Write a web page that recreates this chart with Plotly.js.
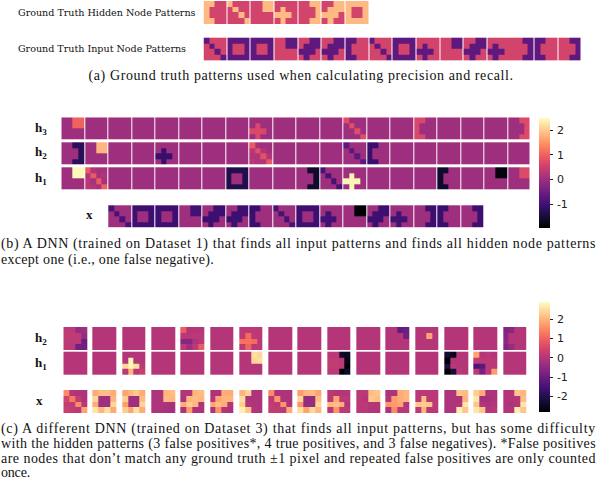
<!DOCTYPE html>
<html>
<head>
<meta charset="utf-8">
<script src="https://cdn.plot.ly/plotly-3.0.1.min.js"></script>
<style>
html,body{margin:0;padding:0;background:#fff}
.heatmaplayer image{filter:blur(0.4px)}
</style>
</head>
<body>
<div id="myDiv" style="width:600px;height:487px"></div>
<script>
// Patrones de referencia (4x4)
const BLANK = [[0,0,0,0],[0,0,0,0],[0,0,0,0],[0,0,0,0]];
const BR_L = [[1,1,0,0],[1,0,0,0],[1,0,0,0],[1,1,0,0]];
const BR_R = [[0,0,1,1],[0,0,0,1],[0,0,0,1],[0,0,1,1]];
const DIAG = [[1,0,0,0],[0,1,0,0],[0,0,1,0],[0,0,0,1]];
const RING = [[1,1,1,1],[1,0,0,1],[1,0,0,1],[1,1,1,1]];
const CORNER = [[0,0,1,1],[0,0,1,1],[0,0,0,0],[0,0,0,0]];
const PLUS = [[0,0,0,0],[0,1,0,0],[1,1,1,0],[0,1,0,0]];
const PLUS_C = [[0,0,1,1],[0,1,1,1],[1,1,1,0],[0,1,0,0]];

// (a) ground truth
const hiddenPatterns = [BR_L, DIAG, CORNER, PLUS, BR_R, PLUS_C, RING];
const hiddenLevel = 1;
const inputPatterns = [DIAG, RING, RING, CORNER, PLUS_C, PLUS_C, BR_L, DIAG, RING, PLUS, CORNER, PLUS_C, PLUS, BR_R, BR_L, BR_R];
const inputLevel = -1;

// (b) patron por columna y nivel por columna
const bH3 = [CORNER,BLANK,BLANK,BLANK,BLANK,BLANK,BLANK,BLANK,PLUS,BLANK,BLANK,BLANK,DIAG,BLANK,BLANK,BR_L,BLANK,BLANK,BLANK,BR_R];
const bH3Level = [1.0,0,0,0,0,0,0,0,0.65,0,0,0,0.75,0,0,0.65,0,0,0,0.7];
const bH2NoisyDiag = [[0.9,0.1,0,0],[0.3,0.8,0.2,0.05],[0.2,0.2,0.8,0.2],[0.3,0.2,0.2,0.9]];
const bH2 = [BR_R,CORNER,BLANK,BLANK,PLUS,BLANK,BLANK,BLANK,bH2NoisyDiag,BLANK,BLANK,BLANK,DIAG,BR_L,BLANK,BLANK,BLANK,BLANK,BLANK,BLANK];
const bH2Level = [-1.25,1.8,0,0,-1.1,0,0,0,1,0,0,0,-0.7,-1.1,0,0,0,0,0,0];
const bH1NoisyDiag = [[0.9,0.2,0.1,0.1],[0.2,0.9,0.1,0.2],[0.3,0.1,0.9,0.1],[0.3,0.2,0.1,1.0]];
const bH1 = [CORNER,bH1NoisyDiag,BLANK,BLANK,BLANK,BLANK,BLANK,RING,BLANK,BLANK,BR_R,DIAG,PLUS,BLANK,BLANK,BLANK,BR_L,BLANK,CORNER,CORNER];
const bH1Level = [2.45,1,0,0,0,0,0,-1.35,0,0,-1.6,-0.95,2.4,0,0,0,-1.6,0,-1.85,0.7];
const bX = inputPatterns;
const bXLevel = [-0.95,-1.05,-1.05,-1.0,-1.05,-1.05,-1.1,-0.95,-1.05,-1.0,-1.95,-1.05,-1.0,-1.05,-1.1,-1.05];

// (c) valores
const cH2 = [
  [[0.1,0.1,-0.4,-0.3],[0.15,0.2,0.15,-0.4],[0.1,0.1,0.1,-1.0],[0.1,0.1,-0.9,-0.9]],
  BLANK, BLANK, BLANK,
  [[0.9,0,0,0],[0.1,0.05,0.1,0.1],[-0.6,-0.6,-0.1,0.1],[0.1,-0.3,0.1,0.9]],
  BLANK,
  [[0.1,0.1,0.1,0.1],[0.1,1.1,0.1,0.1],[1.2,1.2,1.1,0.1],[0.1,1.0,0.1,0.1]],
  BLANK, BLANK, BLANK, BLANK,
  [[0,0,-1.1,-1.0],[0,0,0,-0.9],[0,0,0,0],[0,0,0,0]],
  [[0,0,0,0],[0,0,1.8,0],[0,0,0,0],[0,0,0,0]],
  BLANK, BLANK,
  [[-0.7,-0.6,0,0],[-0.6,0,0,0],[-0.5,0,0,0],[-0.7,-0.4,0,0]]
];
const cH1 = [
  BLANK, BLANK,
  [[0,0,0,0],[0,2.8,0,0],[2.4,2.8,2.5,0.1],[0.1,2.0,0.1,0.3]],
  BLANK, BLANK, BLANK,
  [[0,0,2.5,2.4],[0,0,2.4,2.5],[0,0,0,0],[0,0,0,0]],
  BLANK, BLANK,
  [[0.1,0.1,-2.4,-2.5],[0.2,0.2,0.1,-2.6],[0.2,0.2,0.1,-2.8],[0.1,0.1,-2.8,-2.4]],
  BLANK, BLANK, BLANK,
  [[-2.3,-2.6,0,0],[-2.8,0,0,0],[-2.1,0.1,0,0],[-2.8,-2.2,0.1,0]],
  [[1.8,0,0.1,0],[0.2,0.1,0.1,0.1],[-1.4,-1.2,0.1,0.1],[0.1,-0.8,0.1,1.7]],
  BLANK
];
const cX = [
  [[1.5,0,-0.1,-0.1],[0.4,1.3,0.2,-0.1],[0.2,0.2,1.5,0.1],[0.3,0.2,0.1,1.8]],
  [[1.9,2.1,2.1,1.9],[2.4,-0.3,-0.3,2.0],[1.9,-0.3,-0.3,2.4],[2.6,2.0,2.5,1.9]],
  [[1.8,2.0,2.2,1.9],[2.3,-0.3,-0.3,2.1],[1.7,-0.3,-0.3,2.4],[2.3,1.8,2.5,1.9]],
  [[-0.1,-0.1,2.0,2.1],[-0.1,-0.1,2.1,2.0],[-0.1,-0.1,-0.1,-0.2],[-0.1,-0.1,-0.15,-0.2]],
  [[0,0,2.0,2.1],[-0.1,2.0,2.1,2.0],[1.9,2.3,2.0,-0.1],[-0.1,1.7,-0.1,-0.1]],
  [[-0.1,-0.1,1.9,1.9],[0,1.8,2.0,2.0],[1.8,2.1,1.9,0],[-0.1,1.6,0,-0.1]],
  [[2.0,2.4,-0.1,-0.1],[2.5,-0.1,-0.1,-0.1],[2.3,0,-0.1,-0.1],[2.7,2.2,0,-0.1]],
  [[1.5,-0.1,-0.1,-0.1],[0.1,1.6,-0.1,-0.1],[0.2,0.1,1.6,-0.1],[0.2,0.2,0.1,1.9]],
  [[1.7,2.0,2.1,1.8],[2.4,-0.4,-0.4,2.1],[1.6,-0.4,-0.4,2.4],[2.5,1.8,2.4,2.0]],
  [[0.1,0,0,0],[0.1,1.8,0.1,0.1],[2.0,2.1,1.9,0],[0.1,1.6,0.1,0.1]],
  [[0.1,0.1,2.1,2.2],[0.1,0,2.2,2.1],[0.1,0.1,0,0],[0.1,0.1,0,0]],
  [[-0.1,-0.1,1.9,2.0],[0,1.7,1.9,2.0],[1.6,1.7,1.8,0],[-0.1,1.5,0.1,0.1]],
  [[0.1,0.1,0.1,0.1],[0.1,2.1,0.1,0.1],[2.2,2.3,2.2,0.1],[0.1,2.0,0.1,0.1]],
  [[-0.1,-0.1,2.2,2.1],[-0.1,-0.1,-0.1,2.0],[-0.1,-0.1,0,2.6],[-0.1,-0.1,2.7,2.2]],
  [[2.3,1.9,-0.1,-0.1],[2.6,-0.2,-0.2,-0.1],[2.2,0,-0.1,0],[2.6,2.2,0,0.1]],
  [[0,0,2.2,2.0],[0,0,0,2.1],[0,-0.1,0,2.6],[0,0,2.7,2.2]]
];

const magma = [[0,'#000004'],[0.1,'#140e36'],[0.2,'#3b0f70'],[0.3,'#641a80'],[0.4,'#8c2981'],
  [0.5,'#b73779'],[0.6,'#de4968'],[0.7,'#f7705c'],[0.8,'#fe9f6d'],[0.9,'#fecf92'],[1,'#fcfdbf']];

const W = 600, H = 487;
const serif = 'Liberation Serif, serif';
const slab = 'DejaVu Serif, serif';

// Cada panel es un subplot, sus ejes van en pixeles relativos al panel
const panels = {
  a: {left: 203.5, top: 1, width: 377.5, height: 59.5, pitch: 23.65, cell: 22.7, cellH: 22.6, axis: ''},
  b: {left: 61.3, top: 117.3, width: 468.2, height: 110.5, pitch: 23.5, cell: 22.6, cellH: 22.4, axis: '2'},
  c: {left: 63.3, top: 327, width: 463.5, height: 86.5, pitch: 29.3, cell: 23.6, cellH: 23.3, axis: '3'}
};

function scaled(patterns, levels) {
  return patterns.map((p, i) => {
    let lv = Array.isArray(levels) ? levels[i] : levels;
    return p.map(r => r.map(v => v * lv));
  });
}

// Una fila de celdas: una sola heatmap con columnas nulas como separacion
function rowTrace(cells, panel, rowTop, startCol, colorName) {
  let x = [], y = [], z = [[], [], [], []];
  cells.forEach((m, i) => {
    let c0 = (startCol + i) * panel.pitch;
    for (let k = 0; k <= 4; k++) x.push(c0 + k * panel.cell / 4);
    for (let r = 0; r < 4; r++) {
      z[r].push(...m[r]);
      if (i < cells.length - 1) z[r].push(null);
    }
  });
  for (let k = 0; k <= 4; k++) y.push(rowTop + k * panel.cellH / 4);
  return {
    type: 'heatmap', x: x, y: y, z: z, coloraxis: colorName,
    xaxis: 'x' + panel.axis, yaxis: 'y' + panel.axis,
    hoverinfo: 'skip', hoverongaps: false
  };
}

const traces = [
  rowTrace(scaled(hiddenPatterns, hiddenLevel), panels.a, 0, 0, 'coloraxis'),
  rowTrace(scaled(inputPatterns, inputLevel), panels.a, 36.7, 0, 'coloraxis'),
  rowTrace(scaled(bH3, bH3Level), panels.b, 0, 0, 'coloraxis2'),
  rowTrace(scaled(bH2, bH2Level), panels.b, 25, 0, 'coloraxis2'),
  rowTrace(scaled(bH1, bH1Level), panels.b, 50, 0, 'coloraxis2'),
  rowTrace(scaled(bX, bXLevel), panels.b, 88, 2, 'coloraxis2'),
  rowTrace(cH2, panels.c, 0, 0, 'coloraxis3'),
  rowTrace(cH1, panels.c, 24.7, 0, 'coloraxis3'),
  rowTrace(cX, panels.c, 63, 0, 'coloraxis3')
];

function axisPair(panel) {
  return [
    {domain: [panel.left / W, (panel.left + panel.width) / W], range: [0, panel.width], visible: false, fixedrange: true, anchor: 'y' + panel.axis},
    {domain: [1 - (panel.top + panel.height) / H, 1 - panel.top / H], range: [panel.height, 0], visible: false, fixedrange: true, anchor: 'x' + panel.axis}
  ];
}

function bar(top, bottom, ticks) {
  return {
    x: 539.3 / W, xanchor: 'left', xpad: 0, ypad: 0,
    y: 1 - top / H, yanchor: 'top',
    len: bottom - top, lenmode: 'pixels', thickness: 10.5, thicknessmode: 'pixels',
    outlinewidth: 0, ticks: 'outside', ticklen: 3, tickwidth: 1, tickcolor: '#222',
    tickvals: ticks, ticktext: ticks.map(v => '\u2009' + v),
    tickfont: {family: 'DejaVu Sans', size: 11, color: '#222'}
  };
}

// Texto: [x, y, ancla, tamano, familia, ancho de referencia, texto]
const texts = [
  [17, 12, 'left', 9.6, slab, 177.5, 'Ground Truth Hidden Node Patterns'],
  [17, 48, 'left', 9.6, slab, 168, 'Ground Truth Input Node Patterns'],
  [300.5, 76, 'center', 14, serif, 425, '(a) Ground truth patterns used when calculating precision and recall.'],
  [34, 128, 'left', 13, serif, 0, '<b>h<sub>3</sub></b>'],
  [34, 153, 'left', 13, serif, 0, '<b>h<sub>2</sub></b>'],
  [34, 178, 'left', 13, serif, 0, '<b>h<sub>1</sub></b>'],
  [89, 215, 'center', 13, serif, 0, '<b>x</b>'],
  [0, 244, 'left', 14, serif, 595, '(b) A DNN (trained on Dataset 1) that finds all input patterns and finds all hidden node patterns'],
  [0, 260, 'left', 14, serif, 213, 'except one (i.e., one false negative).'],
  [34, 338, 'left', 13, serif, 0, '<b>h<sub>2</sub></b>'],
  [34, 363, 'left', 13, serif, 0, '<b>h<sub>1</sub></b>'],
  [39, 400.5, 'center', 13, serif, 0, '<b>x</b>'],
  [0, 429, 'left', 14, serif, 595, '(c) A different DNN (trained on Dataset 3) that finds all input patterns, but has some difficulty'],
  [0, 443.5, 'left', 14, serif, 595, 'with the hidden patterns (3 false positives*, 4 true positives, and 3 false negatives). *False positives'],
  [0, 458, 'left', 14, serif, 595, 'are nodes that don\u2019t match any ground truth \u00b11 pixel and repeated false positives are only counted'],
  [0, 472.5, 'left', 14, serif, 29, 'once.']
];

const [xa, ya] = axisPair(panels.a);
const [xb, yb] = axisPair(panels.b);
const [xc, yc] = axisPair(panels.c);

const layout = {
  width: W, height: H,
  margin: {l: 0, r: 0, t: 0, b: 0, pad: 0},
  paper_bgcolor: '#fff', plot_bgcolor: 'rgba(0,0,0,0)',
  showlegend: false,
  xaxis: xa, yaxis: ya, xaxis2: xb, yaxis2: yb, xaxis3: xc, yaxis3: yc,
  coloraxis: {colorscale: magma, cmin: -2, cmax: 1.5, showscale: false},
  coloraxis2: {colorscale: magma, cmin: -1.96, cmax: 2.49, colorbar: bar(118, 227.7, [-1, 0, 1, 2])},
  coloraxis3: {colorscale: magma, cmin: -2.81, cmax: 2.88, colorbar: bar(302.3, 412.3, [-2, -1, 0, 1, 2])},
  annotations: texts.map(t => ({
    xref: 'paper', yref: 'paper', x: t[0] / W, y: 1 - t[1] / H,
    xanchor: t[2], yanchor: 'middle', showarrow: false, text: t[6], borderpad: 0,
    font: {family: t[4], size: t[3], color: '#111'}
  }))
};

Plotly.newPlot('myDiv', traces, layout, {displayModeBar: false, staticPlot: true}).then(function() {
  // Ajusta el espaciado para que cada linea ocupe el ancho del original;
  // el texto va anclado al centro, asi que las de la izquierda se corren lo que crecen
  document.querySelectorAll('#myDiv .annotation-text').forEach(function(el, i) {
    let target = texts[i][5];
    if (!target) return;
    let len = el.getComputedTextLength();
    el.style.letterSpacing = ((target - len) / el.textContent.length).toFixed(3) + 'px';
    if (texts[i][2] === 'left') el.setAttribute('x', parseFloat(el.getAttribute('x')) + (target - len) / 2);
  });
});
</script>
</body>
</html>
